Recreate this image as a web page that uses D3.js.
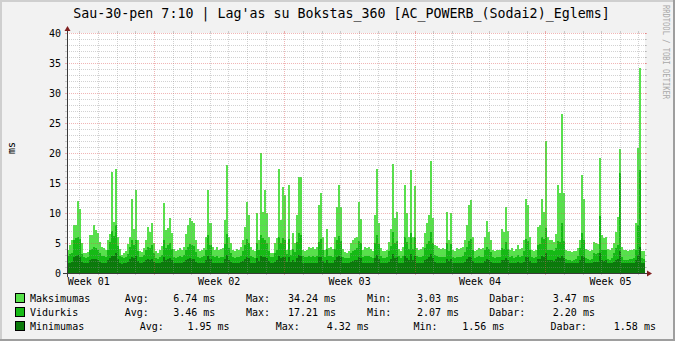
<!DOCTYPE html>
<html><head><meta charset="utf-8">
<script src="https://cdn.jsdelivr.net/npm/d3@7/dist/d3.min.js"></script>
<style>body{margin:0;background:#F2F2F2}svg{display:block}</style>
</head><body><svg id="c" width="675" height="341"></svg>
<script>
const title = "Sau-30-pen 7:10 | Lag'as su Bokstas_360 [AC_POWERB_(Sodai2)_Eglems]";
const yAxisLabel = "ms";
const watermark = "RRDTOOL / TOBI OETIKER";
const yMajorTicks = [0, 5, 10, 15, 20, 25, 30, 35, 40];
const yMinorTicks = d3.range(1, 40).filter(v => v % 5 !== 0);
const weekLabels = ["Week 01", "Week 02", "Week 03", "Week 04", "Week 05"];
const weekLabelDays = [1.167, 8.167, 15.167, 22.167, 29.167];
const majorDays = [4.667, 11.667, 18.667, 25.667];
const minorDays = d3.range(0, 31).map(k => 0.667 + k);
const spanDays = 31.02;

const maxSeries = [
3.8,4.7,5.5,8.0,8.0,12.0,10.7,5.0,3.4,3.3,
3.5,6.3,6.4,8.0,7.2,6.6,5.2,4.4,4.2,3.9,
5.5,6.5,16.9,8.5,17.4,6.0,4.0,3.03,3.4,3.6,
4.8,6.0,12.4,7.4,13.8,5.5,3.6,3.5,4.2,5.5,
7.7,6.8,8.3,5.0,3.6,3.4,3.8,4.5,11.7,7.2,
7.5,9.1,6.6,4.0,3.6,3.8,4.2,3.9,4.4,6.5,
8.0,9.1,8.6,8.4,5.5,4.0,3.6,3.8,4.2,6.0,
13.8,8.3,4.4,3.8,4.4,3.8,4.0,4.2,8.8,18.0,
6.0,5.0,3.8,3.6,4.0,3.8,4.3,5.5,7.7,11.9,
9.7,4.4,3.8,3.6,10.0,5.5,20.0,10.2,13.8,10.0,
6.0,3.4,3.4,5.0,5.8,17.4,8.8,14.4,13.0,3.8,
14.7,3.8,6.6,5.0,9.7,16.0,16.0,3.8,3.6,3.8,
4.4,4.2,4.4,4.0,4.4,11.3,13.3,6.0,3.8,7.4,
4.2,4.4,4.0,6.0,11.0,14.7,11.0,4.0,3.5,3.4,
3.6,5.0,5.5,5.8,6.0,11.9,9.0,3.8,4.4,4.2,
4.4,4.0,3.6,9.7,17.3,8.3,4.1,3.6,3.6,3.8,
5.2,7.4,18.2,9.1,10.2,4.0,3.6,4.4,14.7,10.0,
6.0,17.2,6.0,14.5,4.2,3.8,4.0,4.4,6.6,8.3,
9.7,18.6,9.1,4.7,4.5,4.1,4.0,4.2,4.0,10.2,
5.5,10.0,3.8,3.6,4.1,4.0,4.1,4.4,5.5,8.0,
11.3,12.2,6.0,3.6,3.8,4.2,4.0,4.2,6.0,8.6,
6.9,5.5,3.8,3.6,3.8,3.8,7.4,6.9,11.0,7.0,
3.8,4.2,3.6,4.0,4.6,4.0,4.2,5.5,12.3,11.3,
6.0,3.8,3.6,3.8,7.7,8.0,12.4,10.2,22.0,6.0,
5.5,5.5,5.2,6.5,14.7,13.3,26.5,13.3,3.9,3.6,
3.6,3.5,3.6,3.6,4.2,5.5,16.3,12.4,4.0,3.8,
3.6,3.8,5.2,5.0,4.8,19.1,6.3,5.8,6.0,4.0,
3.8,4.2,5.0,6.9,9.4,20.6,4.4,3.8,3.8,3.7,
3.8,3.9,4.0,8.3,20.8,34.24,3.6,3.6];

const avgSeries = [
2.9,3.1,3.4,5.5,5.8,6.0,5.6,3.2,2.6,2.5,
2.7,3.9,4.0,4.3,4.1,3.9,3.3,2.9,2.8,2.7,
3.8,5.2,7.0,6.2,8.0,4.5,2.9,2.6,2.5,2.6,
3.2,4.4,5.5,4.6,5.5,3.6,2.6,2.6,3.0,3.8,
4.4,4.2,4.6,3.4,2.5,2.4,2.6,3.0,5.5,4.2,
4.6,5.0,4.0,2.7,2.5,2.6,2.8,2.7,3.0,3.8,
4.4,4.8,4.6,4.5,3.5,2.7,2.5,2.6,2.8,3.8,
6.3,4.6,2.9,2.6,2.8,2.5,2.6,2.7,4.8,6.5,
4.2,3.4,2.6,2.5,2.7,2.6,2.9,3.6,4.6,5.6,
5.0,2.9,2.6,2.5,5.0,3.8,6.3,5.8,5.5,5.0,
3.6,2.6,2.6,3.4,3.8,6.0,5.0,5.8,5.5,3.2,
5.6,3.0,4.0,3.5,5.2,6.6,6.4,2.8,2.6,2.6,
2.8,2.7,2.9,2.7,2.9,5.2,5.6,3.8,2.6,4.0,
2.8,2.9,2.7,4.0,5.5,6.2,5.4,2.7,2.5,2.5,
2.5,3.3,3.6,3.9,4.2,5.4,5.0,2.7,2.9,2.8,
2.9,2.7,2.5,5.0,6.4,4.8,2.8,2.5,2.5,2.6,
3.6,4.5,6.8,5.0,5.4,2.8,2.5,2.9,6.0,5.2,
4.0,6.6,4.0,6.0,2.8,2.6,2.7,2.9,4.2,4.8,
5.3,6.8,5.0,3.0,2.9,2.7,2.6,2.7,2.6,5.0,
3.6,4.8,2.6,2.5,2.7,2.6,2.7,2.9,3.5,4.4,
5.4,5.6,3.8,2.5,2.6,2.8,2.6,2.7,3.8,4.4,
4.0,3.5,2.6,2.5,2.6,2.6,4.2,4.0,5.2,4.0,
2.6,2.8,2.5,2.7,3.0,2.7,2.8,3.6,5.6,5.4,
3.8,2.6,2.5,2.6,4.6,4.8,6.0,5.6,7.5,3.9,
3.8,3.8,3.6,4.2,5.4,5.2,8.3,5.3,2.4,2.2,
2.2,2.07,2.2,2.3,2.8,4.2,6.6,5.5,2.5,2.3,
2.2,2.4,3.3,3.2,3.3,9.5,3.9,3.8,3.8,2.4,
2.2,2.5,3.3,4.2,4.6,16.7,2.6,2.2,2.2,2.2,
2.3,2.3,2.5,3.8,8.0,17.21,2.5,2.4];

const minSeries = [
1.6,1.7,1.9,2.6,2.9,3.0,2.7,1.8,1.6,1.6,
1.7,2.2,2.3,2.4,2.3,2.2,1.9,1.7,1.7,1.6,
2.1,2.5,2.9,2.8,3.3,2.3,1.7,1.56,1.6,1.6,
1.9,2.3,2.7,2.5,2.8,2.0,1.6,1.6,1.8,2.1,
2.3,2.2,2.4,1.9,1.6,1.6,1.6,1.8,2.6,2.2,
2.3,2.5,2.1,1.6,1.6,1.6,1.7,1.7,1.8,2.1,
2.3,2.5,2.4,2.4,1.9,1.7,1.6,1.6,1.7,2.1,
2.8,2.4,1.7,1.6,1.7,1.6,1.6,1.7,2.4,3.0,
2.2,1.9,1.6,1.6,1.7,1.6,1.8,2.0,2.4,2.7,
2.5,1.7,1.6,1.6,2.5,2.0,2.9,2.7,2.6,2.5,
2.0,1.6,1.6,1.9,2.1,2.9,2.5,2.7,2.6,1.9,
2.7,1.8,2.2,1.9,2.5,3.0,2.9,1.7,1.6,1.6,
1.7,1.6,1.7,1.6,1.7,2.6,2.7,2.0,1.6,2.1,
1.7,1.7,1.6,2.1,2.6,2.9,2.6,1.6,1.6,1.6,
1.6,1.9,2.0,2.1,2.2,2.7,2.5,1.6,1.7,1.7,
1.7,1.6,1.6,2.5,3.0,2.4,1.7,1.6,1.6,1.6,
1.9,2.3,3.1,2.5,2.6,1.7,1.6,1.7,2.8,2.5,
2.1,3.1,2.1,2.8,1.7,1.6,1.6,1.7,2.2,2.4,
2.6,3.2,2.5,1.8,1.7,1.6,1.6,1.6,1.6,2.4,
2.0,2.4,1.6,1.6,1.6,1.6,1.6,1.7,1.9,2.3,
2.6,2.7,2.0,1.6,1.6,1.7,1.6,1.6,2.0,2.3,
2.1,1.9,1.6,1.6,1.6,1.6,2.1,2.1,2.5,2.1,
1.6,1.7,1.6,1.6,1.8,1.6,1.7,1.9,2.7,2.6,
2.0,1.6,1.6,1.6,2.3,2.4,2.8,2.6,3.3,2.1,
2.1,2.1,2.0,2.3,2.6,2.5,2.8,2.5,1.6,1.6,
1.6,1.6,1.6,1.6,1.7,2.1,2.8,2.6,1.6,1.6,
1.6,1.6,1.9,1.9,1.9,3.4,2.1,2.0,2.1,1.6,
1.6,1.6,1.9,2.2,2.4,3.6,1.7,1.6,1.6,1.6,
1.6,1.6,1.7,2.1,3.0,4.32,1.6,1.6];

const seriesNames = ["Maksimumas", "Vidurkis", "Minimumas"];
const legendAvg = ["6.74", "3.46", "1.95"];
const legendMax = ["34.24", "17.21", "4.32"];
const legendMin = ["3.03", "2.07", "1.56"];
const legendCur = ["3.47", "2.20", "1.58"];
const unit = "ms";

const colors = ["#57E14B", "#15BA15", "#0B7A0B"];
const svg = d3.select("#c");
const W = 675, H = 341;
const X0 = 67, X1 = 645, Y0 = 273, Y1 = 33;
const mono = "'DejaVu Sans Mono', monospace";

// background and shading
svg.append("rect").attr("width", W).attr("height", H).attr("fill", "#F2F2F2");
svg.append("rect").attr("x",0).attr("y",0).attr("width",W).attr("height",2).attr("fill","#CFCFCF");
svg.append("rect").attr("x",0).attr("y",0).attr("width",2).attr("height",H).attr("fill","#CFCFCF");
svg.append("rect").attr("x",0).attr("y",H-2).attr("width",W).attr("height",2).attr("fill","#9E9E9E");
svg.append("rect").attr("x",W-2).attr("y",0).attr("width",2).attr("height",H).attr("fill","#9E9E9E");

// canvas
svg.append("rect").attr("x", X0).attr("y", Y1).attr("width", X1 - X0).attr("height", Y0 - Y1).attr("fill", "#FFFFFF");

const x = d3.scaleLinear().domain([0, spanDays]).range([X0, X1]);
const y = d3.scaleLinear().domain([0, 40]).range([Y0, Y1]);
const n = maxSeries.length;
const stepDays = spanDays / n;

function drawArea(series, color) {
  const pts = series.map((v, i) => [i * stepDays, v]);
  pts.push([n * stepDays, series[n - 1]]);
  const area = d3.area()
    .x(d => x(d[0]))
    .y0(y(0))
    .y1(d => Math.round(y(d[1])))
    .curve(d3.curveStepAfter);
  svg.append("path").attr("d", area(pts)).attr("fill", color).attr("shape-rendering", "crispEdges");
}
drawArea(maxSeries, colors[0]);
drawArea(avgSeries, colors[1]);
drawArea(minSeries, colors[2]);

// grid
const gridCol = "rgba(143,143,143,0.4)";
const mgridCol = "rgba(222,79,79,0.42)";
const grid = svg.append("g").attr("shape-rendering", "crispEdges");
function hline(v, col) {
  const yy = Math.round(y(v)) + 0.5;
  grid.append("line").attr("x1", X0).attr("x2", X1 + 1).attr("y1", yy).attr("y2", yy)
    .attr("stroke", col).attr("stroke-dasharray", "1,1");
  grid.append("line").attr("x1", X0 - 2).attr("x2", X0).attr("y1", yy).attr("y2", yy).attr("stroke", col);
  grid.append("line").attr("x1", X1).attr("x2", X1 + 2).attr("y1", yy).attr("y2", yy).attr("stroke", col);
}
function vline(d, col) {
  const xx = Math.round(x(d)) + 0.5;
  grid.append("line").attr("x1", xx).attr("x2", xx).attr("y1", Y1).attr("y2", Y0)
    .attr("stroke", col).attr("stroke-dasharray", "1,1");
  grid.append("line").attr("x1", xx).attr("x2", xx).attr("y1", Y0).attr("y2", Y0 + 2).attr("stroke", col);
  grid.append("line").attr("x1", xx).attr("x2", xx).attr("y1", Y1 - 2).attr("y2", Y1).attr("stroke", col);
}
yMinorTicks.forEach(v => hline(v, gridCol));
minorDays.filter(d => !majorDays.some(m => Math.abs(m - d) < 0.01)).forEach(d => vline(d, gridCol));
yMajorTicks.filter(v => v > 0).forEach(v => hline(v, mgridCol));
majorDays.forEach(d => vline(d, mgridCol));

// axes
const axisCol = "#3A3A3A";
svg.append("line").attr("x1", X0 - 4).attr("x2", X1 + 4).attr("y1", Y0 + 0.5).attr("y2", Y0 + 0.5)
  .attr("stroke", axisCol).attr("shape-rendering", "crispEdges");
svg.append("line").attr("x1", X0 + 0.5).attr("x2", X0 + 0.5).attr("y1", Y0 + 4).attr("y2", Y1 - 4)
  .attr("stroke", axisCol).attr("shape-rendering", "crispEdges");
const arrowCol = "#801F1F";
svg.append("path").attr("d", `M${X1 + 2},${Y0 - 3 + 0.5}L${X1 + 2},${Y0 + 3 + 0.5}L${X1 + 7},${Y0 + 0.5}Z`).attr("fill", arrowCol);
svg.append("path").attr("d", `M${X0 - 3 + 0.5},${Y1 - 2}L${X0 + 3 + 0.5},${Y1 - 2}L${X0 + 0.5},${Y1 - 7}Z`).attr("fill", arrowCol);

// axis labels
svg.append("g").selectAll("text").data(yMajorTicks).join("text")
  .attr("x", X0 - 6).attr("y", d => y(d) + 4)
  .attr("text-anchor", "end").attr("font-family", mono).attr("font-size", "10px").attr("fill", "#000")
  .text(d => d);
svg.append("g").selectAll("text").data(weekLabels).join("text")
  .attr("x", (d, i) => x(weekLabelDays[i])).attr("y", 285)
  .attr("text-anchor", "middle").attr("font-family", mono).attr("font-size", "10px").attr("fill", "#000")
  .text(d => d);
svg.append("text").attr("transform", "translate(15,148) rotate(-90)")
  .attr("text-anchor", "middle").attr("font-family", mono).attr("font-size", "10px").text(yAxisLabel);

// title
svg.append("text").attr("x", 341.5).attr("y", 18).attr("text-anchor", "middle")
  .attr("font-family", mono).attr("font-size", "13.3px").attr("fill", "#000").text(title);

// watermark
svg.append("text").attr("transform", "translate(663,5) rotate(90)")
  .attr("font-family", mono).attr("font-size", "8px").attr("fill", "#A8A8A8")
  .attr("textLength", 94).attr("lengthAdjust", "spacingAndGlyphs").text(watermark);

// legend
const rowY = [302, 316, 330];
const colPos = [
  {avgL:124.7, avgV:173.2, maxL:245.9, maxV:287.9, minL:367.1, minV:416.9, curL:489.2, curV:552.8},
  {avgL:124.7, avgV:173.2, maxL:245.9, maxV:287.9, minL:367.1, minV:416.9, curL:489.2, curV:552.8},
  {avgL:139.8, avgV:187.4, maxL:275.8, maxV:326.8, minL:413.4, minV:462.3, curL:550.6, curV:613.8}
];
const leg = svg.append("g").attr("font-family", mono).attr("font-size", "10px").attr("fill", "#000");
seriesNames.forEach((name, i) => {
  const yy = rowY[i];
  const p = colPos[i];
  leg.append("rect").attr("x", 15.5).attr("y", yy - 8.5).attr("width", 9).attr("height", 9)
    .attr("fill", colors[i]).attr("stroke", "#000").attr("stroke-width", 1);
  const t = (xx, s) => leg.append("text").attr("x", xx).attr("y", yy).attr("xml:space", "preserve").text(s);
  t(30, name);
  t(p.avgL, "Avg:"); t(p.avgV, legendAvg[i] + " " + unit);
  t(p.maxL, "Max:"); t(p.maxV, legendMax[i] + " " + unit);
  t(p.minL, "Min:"); t(p.minV, legendMin[i] + " " + unit);
  t(p.curL, "Dabar:"); t(p.curV, legendCur[i] + " " + unit);
});
</script></body></html>
